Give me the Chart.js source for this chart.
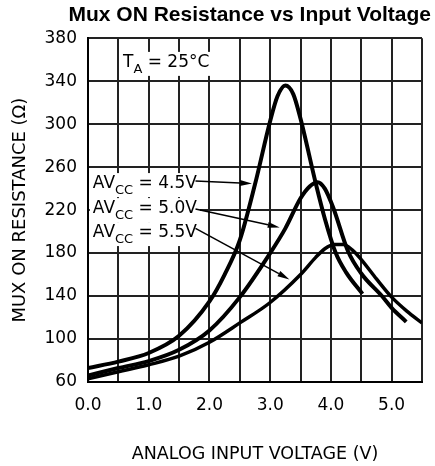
<!doctype html>
<html lang="en">
<head>
<meta charset="utf-8">
<title>Mux ON Resistance vs Input Voltage</title>
<style>
  html, body { margin: 0; padding: 0; background: #fff; overflow: hidden; }
  #wrap { width: 435px; height: 466px; }
</style>
</head>
<body>
<div id="wrap"><canvas id="chart0"></canvas></div>
<script src="https://cdn.jsdelivr.net/npm/chart.js@4.4.1/dist/chart.umd.min.js"></script>
<script>
// curves: input voltage (V) -> on resistance (ohm)
var v45 = [0, 0.5, 1.0, 1.5, 2.0, 2.25, 2.5, 2.75, 3.0, 3.12, 3.25, 3.38, 3.5, 3.75, 3.9, 4.08, 4.25, 4.52];
var r45 = [73, 79, 87, 103, 135, 160, 192, 244, 303, 326, 336, 328, 305, 245, 212, 180, 162, 142];

var v50 = [0, 0.5, 1.0, 1.5, 2.0, 2.5, 3.0, 3.25, 3.5, 3.65, 3.78, 3.9, 4.04, 4.28, 4.5, 4.84, 5.0, 5.24];
var r50 = [66, 73, 79.5, 90, 108, 139, 180, 203, 231, 242, 246, 240, 222, 182, 161, 140, 129, 116];

var v55 = [0, 0.5, 1.0, 1.5, 2.0, 2.5, 3.0, 3.5, 3.75, 3.9, 4.05, 4.2, 4.35, 4.5, 4.75, 5.0, 5.25, 5.5];
var r55 = [63, 69.5, 76, 84, 97, 115, 134, 160, 176, 184, 188, 188, 183, 174, 156, 139, 126, 115];

// axis ranges
var xMin = 0, xMax = 5.5, xStep = 0.5;
var yMin = 60, yMax = 380, yStep = 40;

// notes on the plot
var noteSupply = ['4.5V', '5.0V', '5.5V'];
var noteX = 0.08;
var noteY = [240.5, 217.2, 194.9];
var arrowFromX = [1.77, 1.77, 1.77];
var arrowFromY = [247, 221, 203];
var arrowToX = [2.70, 3.157, 3.317];
var arrowToY = [244.8, 203.9, 155.5];
var tempX = 0.577, tempY = 353.3;

function pts(xs, ys) {
  var out = [];
  for (var i = 0; i < xs.length; i++) out.push({x: xs[i], y: ys[i]});
  return out;
}

var mainFont = '"DejaVu Sans", sans-serif';

// "big" text + subscript + rest, on a white box
function subText(ctx, x, y, big, sub, rest) {
  ctx.font = '17px ' + mainFont;
  var w1 = ctx.measureText(big).width;
  var w3 = ctx.measureText(rest).width;
  ctx.font = '13px ' + mainFont;
  var w2 = ctx.measureText(sub).width;
  ctx.fillStyle = '#fff';
  ctx.fillRect(x - 3, y - 15, w1 + w2 + w3 + 6, 24);
  ctx.fillStyle = '#000';
  ctx.textBaseline = 'alphabetic';
  ctx.textAlign = 'left';
  ctx.font = '17px ' + mainFont;
  ctx.fillText(big, x, y);
  ctx.font = '13px ' + mainFont;
  ctx.fillText(sub, x + w1, y + 6);
  ctx.font = '17px ' + mainFont;
  ctx.fillText(rest, x + w1 + w2, y);
}

var notes = {
  id: 'notes',
  beforeDatasetsDraw: function(chart) {
    var ctx = chart.ctx, xs = chart.scales.x, ys = chart.scales.y;
    ctx.save();
    subText(ctx, xs.getPixelForValue(tempX), ys.getPixelForValue(tempY), 'T', 'A', ' = 25\u00B0C');
    for (var i = 0; i < noteSupply.length; i++) {
      subText(ctx, xs.getPixelForValue(noteX), ys.getPixelForValue(noteY[i]), 'AV', 'CC', ' = ' + noteSupply[i]);
    }
    ctx.restore();
  },
  afterDatasetsDraw: function(chart) {
    var ctx = chart.ctx, xs = chart.scales.x, ys = chart.scales.y;
    ctx.save();
    ctx.strokeStyle = '#000';
    ctx.fillStyle = '#000';
    ctx.lineWidth = 1.5;
    for (var i = 0; i < arrowFromX.length; i++) {
      var x1 = xs.getPixelForValue(arrowFromX[i]), y1 = ys.getPixelForValue(arrowFromY[i]);
      var x2 = xs.getPixelForValue(arrowToX[i]), y2 = ys.getPixelForValue(arrowToY[i]);
      var a = Math.atan2(y2 - y1, x2 - x1);
      var hl = 12, hw = 3;
      ctx.beginPath();
      ctx.moveTo(x1, y1);
      ctx.lineTo(x2 - hl * Math.cos(a), y2 - hl * Math.sin(a));
      ctx.stroke();
      ctx.beginPath();
      ctx.moveTo(x2, y2);
      ctx.lineTo(x2 - hl * Math.cos(a) + hw * Math.sin(a), y2 - hl * Math.sin(a) - hw * Math.cos(a));
      ctx.lineTo(x2 - hl * Math.cos(a) - hw * Math.sin(a), y2 - hl * Math.sin(a) + hw * Math.cos(a));
      ctx.closePath();
      ctx.fill();
    }
    ctx.restore();
  }
};

function curve(label, xs, ys, w) {
  return {
    label: label,
    data: pts(xs, ys),
    borderColor: '#000',
    backgroundColor: '#000',
    borderWidth: w,
    pointRadius: 0,
    fill: false,
    cubicInterpolationMode: 'monotone',
    borderCapStyle: 'butt'
  };
}

var ctx = document.getElementById('chart0').getContext('2d');
var myChart = new Chart(ctx, {
  type: 'line',
  data: {
    datasets: [
      curve('AVCC = 4.5V', v45, r45, 4),
      curve('AVCC = 5.0V', v50, r50, 4),
      curve('AVCC = 5.5V', v55, r55, 3.5)
    ]
  },
  plugins: [notes],
  options: {
    responsive: true,
    maintainAspectRatio: false,
    animation: false,
    layout: { padding: { left: 0, right: 4, top: 0, bottom: 0 } },
    plugins: {
      legend: { display: false },
      tooltip: { enabled: false },
      title: {
        display: true,
        text: 'Mux ON Resistance vs Input Voltage',
        align: 'end',
        color: '#000',
        font: { family: '"Liberation Sans", Arial, sans-serif', size: 21, weight: 'bold' },
        padding: { top: 3, bottom: 10 }
      }
    },
    scales: {
      x: {
        type: 'linear',
        min: xMin, max: xMax,
        afterFit: function(s) { s.height = 84; },
        ticks: {
          stepSize: xStep,
          padding: 13,
          maxRotation: 0,
          autoSkip: false,
          color: '#000',
          font: { family: mainFont, size: 17 },
          callback: function(v) { return (Math.abs(v % 1) < 1e-6 && v < xMax) ? v.toFixed(1) : ''; }
        },
        grid: { color: '#222', lineWidth: 2, drawTicks: false },
        border: { color: '#000', width: 2 },
        title: {
          display: true,
          text: 'ANALOG INPUT VOLTAGE (V)',
          color: '#000',
          font: { family: mainFont, size: 17.5 },
          padding: { top: 0, bottom: 1 }
        }
      },
      y: {
        min: yMin, max: yMax,
        afterFit: function(s) { s.width = 88; },
        ticks: {
          stepSize: yStep,
          padding: 11,
          color: '#000',
          font: { family: mainFont, size: 17 }
        },
        grid: { color: '#222', lineWidth: 2, drawTicks: false },
        border: { color: '#000', width: 2 },
        title: {
          display: true,
          text: 'MUX ON RESISTANCE (\u03A9)',
          color: '#000',
          font: { family: mainFont, size: 18 },
          padding: { top: 10, bottom: 0 }
        }
      }
    }
  }
});
</script>
</body>
</html>
